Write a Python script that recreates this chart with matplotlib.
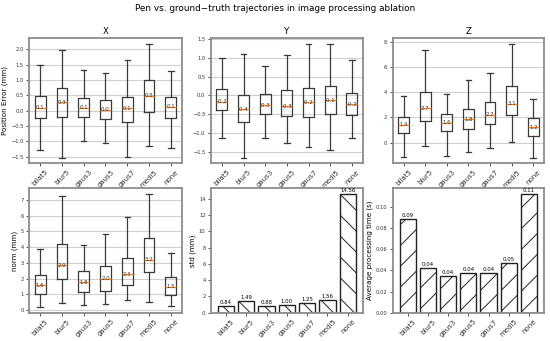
import matplotlib
matplotlib.use("Agg")
import matplotlib.pyplot as plt

categories = ["bilat5", "blur5", "gaus3", "gaus5", "gaus7", "medi5", "none"]

# box stats: whislo, q1, med, q3, whishi
x_whislo = [-1.27, -1.53, -0.98, -1.07, -1.50, -1.14, -1.22]
x_q1     = [-0.25, -0.21, -0.22, -0.27, -0.36, -0.04, -0.23]
x_med    = [0.10, 0.27, 0.10, 0.03, 0.07, 0.48, 0.12]
x_q3     = [0.47, 0.75, 0.42, 0.36, 0.45, 1.00, 0.45]
x_whishi = [1.50, 1.97, 1.33, 1.22, 1.65, 2.17, 1.30]

y_whislo = [-1.13, -1.64, -1.12, -1.25, -1.35, -1.44, -1.11]
y_q1     = [-0.39, -0.70, -0.49, -0.53, -0.57, -0.49, -0.52]
y_med    = [-0.17, -0.36, -0.26, -0.29, -0.18, -0.13, -0.23]
y_q3     = [0.17, 0.01, 0.05, 0.14, 0.20, 0.25, 0.07]
y_whishi = [0.98, 1.09, 0.77, 1.08, 1.36, 1.35, 0.94]

z_whislo = [-1.14, -0.24, -1.06, -0.72, -0.43, 0.05, -1.20]
z_q1     = [0.72, 1.70, 0.90, 1.04, 1.44, 2.15, 0.53]
z_med    = [1.40, 2.70, 1.58, 1.84, 2.20, 3.06, 1.20]
z_q3     = [2.05, 4.03, 2.26, 2.69, 3.19, 4.47, 1.94]
z_whishi = [3.73, 7.34, 3.86, 4.95, 5.50, 7.82, 3.46]

n_whislo = [0.19, 0.47, 0.30, 0.38, 0.66, 0.53, 0.28]
n_q1     = [1.00, 2.00, 1.13, 1.21, 1.59, 2.40, 0.96]
n_med    = [1.57, 2.85, 1.78, 2.00, 2.29, 3.20, 1.49]
n_q3     = [2.25, 4.23, 2.50, 2.80, 3.33, 4.61, 2.10]
n_whishi = [3.90, 7.28, 4.12, 4.86, 5.92, 7.39, 3.65]

std_vals = [0.84, 1.49, 0.88, 1.00, 1.25, 1.56, 14.56]
time_vals = [0.089, 0.042, 0.035, 0.038, 0.038, 0.047, 0.112]

DPI = 125
K = 100.0 / DPI  # sizes below are given as if at 100 dpi
W, H = 550.0, 341.0
fig = plt.figure(figsize=(W / DPI, H / DPI), dpi=DPI)

cols = [(29.3, 181.7), (211.0, 362.7), (392.7, 544.0)]
rows = [(38.3, 163.3), (188.3, 312.7)]

def make_ax(r, c):
    l, rr = cols[c]
    t, b = rows[r]
    return fig.add_axes([l / W, 1 - b / H, (rr - l) / W, (b - t) / H])

YTICK_FS = 3.7 * K
XTICK_FS = 5.0 * K
LAB_FS = 5.1 * K
LW = 0.9 * K

plt.rcParams["hatch.linewidth"] = 0.7 * K

def common(ax, xpos):
    for s in ax.spines.values():
        s.set_color("#8c8c8c")
        s.set_linewidth(1.3 * K)
    ax.tick_params(axis="y", labelsize=YTICK_FS, length=2.5 * K, width=0.6 * K, pad=1.5 * K, colors="#333333")
    ax.tick_params(axis="x", length=2.5 * K, width=0.6 * K, pad=1.5 * K, colors="#333333")
    ax.set_xticks(xpos)
    ax.set_xticklabels(categories, rotation=45, fontsize=XTICK_FS)

def boxpanel(ax, lo, q1, med, q3, hi, title=None, ylabel=None):
    stats = []
    for i, c in enumerate(categories):
        stats.append(dict(label=c, whislo=lo[i], q1=q1[i], med=med[i], q3=q3[i], whishi=hi[i], fliers=[]))
    ax.bxp(stats, showfliers=False, widths=0.5,
           boxprops=dict(color="#3a3a3a", linewidth=LW),
           whiskerprops=dict(color="#3a3a3a", linewidth=LW),
           capprops=dict(color="#3a3a3a", linewidth=LW),
           medianprops=dict(color="#ff7f0e", linewidth=LW))
    for i, m in enumerate(med):
        ax.text(i + 1, m, f"{m:.1f}", ha="center", va="center", fontsize=3.9 * K, color="#333333")
    ax.yaxis.grid(True, color="#cfcfcf", linewidth=0.8 * K)
    ax.set_axisbelow(True)
    common(ax, range(1, len(categories) + 1))
    if title:
        ax.set_title(title, fontsize=6.2 * K, pad=3 * K)
    if ylabel:
        ax.set_ylabel(ylabel, fontsize=LAB_FS, labelpad=2 * K)

def barpanel(ax, vals, hatch, ylabel):
    x = list(range(len(categories)))
    bars = ax.bar(x, vals, width=0.8, color="white", edgecolor="#222222", hatch=hatch, linewidth=1.0 * K)
    ax.bar_label(bars, labels=[f"{v:.2f}" for v in vals], fontsize=3.9 * K, padding=0.5)
    common(ax, x)
    ax.set_ylabel(ylabel, fontsize=LAB_FS, labelpad=2 * K)

ax = make_ax(0, 0)
boxpanel(ax, x_whislo, x_q1, x_med, x_q3, x_whishi, title="X", ylabel="Position Error (mm)")
ax = make_ax(0, 1)
boxpanel(ax, y_whislo, y_q1, y_med, y_q3, y_whishi, title="Y")
ax = make_ax(0, 2)
boxpanel(ax, z_whislo, z_q1, z_med, z_q3, z_whishi, title="Z")
ax = make_ax(1, 0)
boxpanel(ax, n_whislo, n_q1, n_med, n_q3, n_whishi, ylabel="norm (mm)")
ax = make_ax(1, 1)
barpanel(ax, std_vals, "\\\\", "std (mm)")
ax = make_ax(1, 2)
barpanel(ax, time_vals, "//", "Average processing time (s)")

fig.suptitle("Pen vs. ground\u2212truth trajectories in image processing ablation", fontsize=6.4 * K, y=1 - 8.5 / H, va="center")

fig.savefig("out.png", dpi=DPI)
